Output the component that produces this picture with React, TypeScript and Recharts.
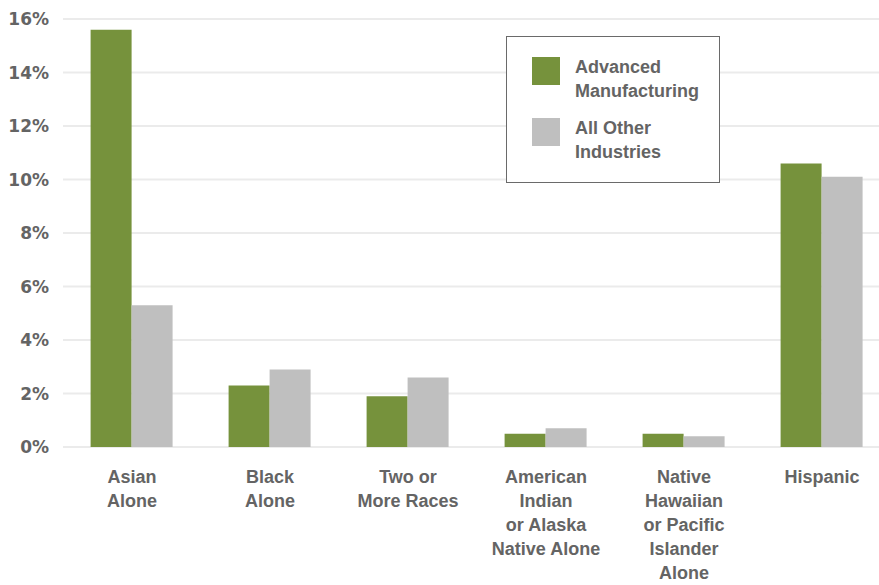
import { BarChart, Bar, XAxis, YAxis, CartesianGrid } from 'recharts';

const CATEGORIES = [
  'Asian\nAlone',
  'Black\nAlone',
  'Two or\nMore Races',
  'American\nIndian\nor Alaska\nNative Alone',
  'Native\nHawaiian\nor Pacific\nIslander\nAlone',
  'Hispanic',
];
const ADVANCED_MFG = [15.6, 2.3, 1.9, 0.5, 0.5, 10.6];
const ALL_OTHER = [5.3, 2.9, 2.6, 0.7, 0.4, 10.1];
const Y_TICKS = [0, 2, 4, 6, 8, 10, 12, 14, 16];

const GREEN = '#76923C';
const GRAY = '#BFBFBF';
const TEXT = '#646464';

const data = CATEGORIES.map((name, i) => ({
  name,
  adv: ADVANCED_MFG[i],
  other: ALL_OTHER[i],
}));

/** multi-line category label under each group */
function CategoryTick({ x, y, payload }: any) {
  const lines = String(payload.value).split('\n');
  return (
    <text
      x={x}
      y={y}
      textAnchor="middle"
      fill={TEXT}
      fontFamily="'Liberation Sans', Arial, sans-serif"
      fontWeight={700}
      fontSize={18}
    >
      {lines.map((line, i) => (
        <tspan key={i} x={x} dy={i === 0 ? 36 : 24}>
          {line}
        </tspan>
      ))}
    </text>
  );
}

const LEGEND_ITEMS = [
  { color: GREEN, lines: ['Advanced', 'Manufacturing'] },
  { color: GRAY, lines: ['All Other', 'Industries'] },
];

// legend box drawn over the plot, top right
function LegendBox() {
  return (
    <div
      style={{
        position: 'absolute',
        left: 506,
        top: 36,
        width: 214,
        height: 147,
        border: '1px solid #6a6a6a',
        background: '#fff',
        boxSizing: 'border-box',
        padding: '20px 0 0 25px',
        fontFamily: "'Liberation Sans', Arial, sans-serif",
        fontWeight: 700,
        fontSize: 18,
        color: TEXT,
      }}
    >
      {LEGEND_ITEMS.map((item, i) => (
        <div key={i} style={{ display: 'flex', alignItems: 'flex-start', marginBottom: i === 0 ? 15 : 0 }}>
          <div style={{ width: 28, height: 28, background: item.color, marginRight: 15 }} />
          <div style={{ lineHeight: '24px', marginTop: -2 }}>
            {item.lines.map((l) => (
              <div key={l}>{l}</div>
            ))}
          </div>
        </div>
      ))}
    </div>
  );
}

export default function App() {
  // the plot runs a little past the right edge of the picture, so clip it
  return (
    <div
      style={{
        position: 'absolute',
        left: 0,
        top: 0,
        width: 879,
        height: 585,
        overflow: 'hidden',
        background: '#fff',
      }}
    >
      <BarChart
        width={891}
        height={585}
        data={data}
        margin={{ top: 19, right: 0, bottom: 0, left: 0 }}
        barCategoryGap="20%"
        barGap={0}
      >
        <CartesianGrid vertical={false} stroke="#EBEBEB" strokeWidth={2} />
        <XAxis
          dataKey="name"
          axisLine={false}
          tickLine={false}
          tickSize={0}
          tickMargin={0}
          height={138}
          interval={0}
          tick={<CategoryTick />}
        />
        <YAxis
          domain={[0, 16]}
          ticks={Y_TICKS}
          width={63}
          axisLine={false}
          tickLine={false}
          tickSize={0}
          tickMargin={14}
          tickFormatter={(v) => `${v}%`}
          tick={{ fill: TEXT, fontSize: 17, fontWeight: 700, fontFamily: "'DejaVu Sans', sans-serif" }}
        />
        <Bar dataKey="adv" name="Advanced Manufacturing" fill={GREEN} isAnimationActive={false} />
        <Bar dataKey="other" name="All Other Industries" fill={GRAY} isAnimationActive={false} />
      </BarChart>
      <LegendBox />
    </div>
  );
}
